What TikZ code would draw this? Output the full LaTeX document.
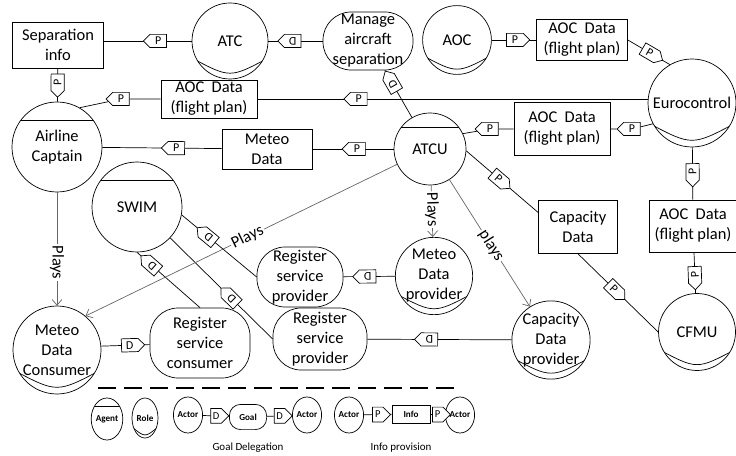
\documentclass[tikz,border=0pt]{standalone}
\usepackage{fontspec}
\setmainfont{Carlito}
\usetikzlibrary{shapes.geometric,shapes.symbols,arrows.meta,calc}

\tikzset{
  actor/.style={circle,draw,inner sep=0pt,align=center},
  agent/.style={actor,path picture={\draw ($(path picture bounding box.north west)!.2!(path picture bounding box.south west)$) -- ($(path picture bounding box.north east)!.2!(path picture bounding box.south east)$);}},
  role/.style={actor,path picture={\draw ($(path picture bounding box.south west)!.275!(path picture bounding box.north west)$) .. controls ($(path picture bounding box.south)!.01!(path picture bounding box.north)$) .. ($(path picture bounding box.south east)!.275!(path picture bounding box.north east)$);}},
  goal/.style={draw,rectangle,rounded corners=20pt,inner sep=0pt,align=center},
  res/.style={draw,rectangle,inner sep=0pt,align=center},
  tagbase/.style={draw,signal,fill=white,inner sep=.5pt,minimum width=.58cm,minimum height=.33cm,font=\fontsize{8.5}{9}\selectfont},
  tage/.style={tagbase,signal to=east},
  tagw/.style={tagbase,signal to=west},
  along/.style={sloped,allow upside down},
  plays/.style={->,draw=black!60},
  lbl/.style={fill=white,inner sep=1pt},
  legtxt/.style={font=\fontsize{6.5}{8}\selectfont\bfseries},
  legtag/.style={minimum width=.45cm,minimum height=.37cm,font=\fontsize{7.5}{8}\selectfont}
}

\begin{document}
\begin{tikzpicture}[>={Straight Barb[length=4pt,width=7pt]},line width=.5pt,font=\fontsize{11.7}{14.2}\selectfont]
\useasboundingbox (0,0) rectangle (18.4,11.375);
% actors, goals and resources
\node[res,minimum width=2.275cm,minimum height=1.15cm] (sepinfo) at (1.45,10.25) {Separation\\info};
\node[role,minimum size=1.9cm] (atc) at (5.75,10.35) {ATC};
\node[goal,minimum width=2.25cm,minimum height=1.45cm] (manage) at (9.2,10.35) {Manage\\aircraft\\separation};
\node[role,minimum size=1.72cm] (aoc) at (11.425,10.375) {AOC};
\node[res,minimum width=2.275cm,minimum height=1.025cm] (aocA) at (14.55,10.375) {AOC\ \ Data\\(flight plan)};
\node[role,minimum size=2.2cm] (euro) at (17.3,8.8) {Eurocontrol};
\node[res,minimum width=2.4cm,minimum height=.95cm] (aocB) at (5.225,8.9) {AOC\ \ Data\\(flight plan)};
\node[agent,minimum size=2.25cm] (captain) at (1.425,7.7) {Airline\\Captain};
\node[agent,minimum size=1.8cm] (atcu) at (10.75,7.65) {ATCU};
\node[res,minimum width=2.4cm,minimum height=1.325cm] (aocC) at (14.05,8.15) {AOC\ \ Data\\(flight plan)};
\node[res,minimum width=2.25cm,minimum height=1cm] (meteo) at (6.675,7.65) {Meteo\\Data};
\node[agent,minimum size=2.25cm] (swim) at (3.425,6.2) {SWIM};
\node[res,minimum width=1.975cm,minimum height=1.325cm] (capdata) at (14.45,5.7) {Capacity\\Data};
\node[res,minimum width=2.2cm,minimum height=1.3cm] (aocD) at (17.325,5.725) {AOC\ \ Data\\(flight plan)};
\node[goal,minimum width=2.15cm,minimum height=1.5cm] (rsp1) at (7.5,4.45) {Register\\service\\provider};
\node[role,minimum size=1.9cm] (mdp) at (10.85,4.475) {Meteo\\Data\\provider};
\node[role,minimum size=1.925cm] (cfmu) at (17.425,3.075) {CFMU};
\node[role,minimum size=2.2cm] (mdc) at (1.425,2.625) {Meteo\\Data\\Consumer};
\node[goal,minimum width=2.5cm,minimum height=1.75cm] (rsc) at (5,2.8) {Register\\service\\consumer};
\node[goal,minimum width=2.35cm,minimum height=1.55cm] (rsp2) at (8,2.9) {Register\\service\\provider};
\node[role,minimum size=1.875cm] (cdp) at (13.775,2.875) {Capacity\\Data\\provider};
% dependencies
\draw (sepinfo.east |- atc) -- node[tagw,along,pos=.62] (p1) {P} (atc);
\draw (manage) -- node[tage,along,pos=.55] (d1) {D} (atc);
\draw (captain) -- node[tagw,along,pos=.58] (p2) {P} (sepinfo);
\node[tagw] (p3) at (3.025,8.9) {P};
\draw (captain.60) -- (p3) -- (aocB);
\draw (aocB.east) -- node[tagw,along,pos=.26] (p4) {P} (euro.west |- aocB);
\draw (atcu) -- node[tage,along,pos=.71] (d2) {D} (manage);
\draw (aoc) -- node[tage,along,pos=.52] (p5) {P} (aocA);
\draw (aocA.east) -- node[tage,along,pos=.52] (p6) {P} (euro.120);
\draw (captain) -- node[tagw,along,pos=.62] (p7) {P} (meteo);
\draw (meteo) -- node[tagw,along,pos=.55] (p8) {P} (atcu);
\node[tagw] (p9) at (12.25,8.15) {P};
\draw (atcu.25) -- (p9) -- (aocC);
\node[tagw] (p10) at (15.8,8.15) {P};
\draw (aocC) -- (p10) -- (euro.208);
\draw (atcu.-3) -- node[tage,along,pos=.45] (p11) {P} (capdata.160);
\draw (aocD) -- node[tagw,along,pos=.53] (p12) {P} (euro);
\draw (cfmu) -- node[tagw,along,pos=.45] (p13) {P} (aocD);
\draw (capdata.south) -- node[tage,along,pos=.45] (p14) {P} (cfmu.west);
\draw (rsp1.west) -- node[tage,along,pos=.64] (d3) {D} (swim.-10);
\draw (rsc.north) -- node[tage,along,pos=.76] (d4) {D} (swim.south);
\draw (rsp2.west) -- node[tage,along,pos=.4] (d5) {D} (swim.-43);
\draw (mdp) -- node[tage,along,pos=.53] (d6) {D} (rsp1);
\draw (mdc.5) -- node[tage,along,pos=.59] (d7) {D} (rsc);
\draw (cdp) -- node[tage,along,pos=.57] (d8) {D} (rsp2);
% plays
\draw[plays] (captain) -- node[lbl,sloped,pos=.62] (pl1) {Plays} (mdc);
\draw[plays] (atcu) -- node[lbl,along,pos=.47] (pl2) {Plays} (mdp);
\draw[plays] (atcu) -- node[lbl,sloped,pos=.52] (pl3) {plays} (cdp);
\draw[plays] (atcu.205) -- node[lbl,sloped,pos=.48] (pl4) {Plays} (mdc.50);
% legend
\draw[line width=2.1pt,dash pattern=on 12.8pt off 5.7pt] (2.45,1.675) -- (11.375,1.675);
\node[agent,ellipse,minimum width=.75cm,minimum height=1.05cm,legtxt] (lagent) at (2.675,.9) {Agent};
\node[role,ellipse,minimum width=.65cm,minimum height=1cm,legtxt] (lrole) at (3.625,.925) {Role};
\node[actor,ellipse,minimum width=.73cm,minimum height=.9cm,legtxt] (lact1) at (4.7,1) {Actor};
\node[goal,rounded corners=8pt,minimum width=.93cm,minimum height=.63cm,legtxt] (lgoal) at (6.2,.95) {Goal};
\node[actor,ellipse,minimum width=.73cm,minimum height=.9cm,legtxt] (lact2) at (7.675,1) {Actor};
\node[actor,ellipse,minimum width=.73cm,minimum height=.9cm,legtxt] (lact3) at (8.725,1) {Actor};
\node[res,minimum width=.95cm,minimum height=.45cm,legtxt] (linfo) at (10.275,1.025) {Info};
\node[actor,ellipse,minimum width=.73cm,minimum height=.9cm,legtxt] (lact4) at (11.5,1) {Actor};
\draw (lact1) -- node[tage,legtag,midway] (ld1) {D} (lgoal);
\draw (lgoal) -- node[tage,legtag,midway] (ld2) {D} (lact2);
\draw (lact3) -- node[tage,legtag,midway] (lp1) {P} (linfo);
\draw (linfo) -- node[tage,legtag,midway] (lp2) {P} (lact4);
\node[font=\fontsize{7.8}{9}\selectfont] (lgd) at (6.2,.175) {Goal Delegation};
\node[font=\fontsize{7.8}{9}\selectfont] (lip) at (10.025,.175) {Info provision};
\end{tikzpicture}
\end{document}
